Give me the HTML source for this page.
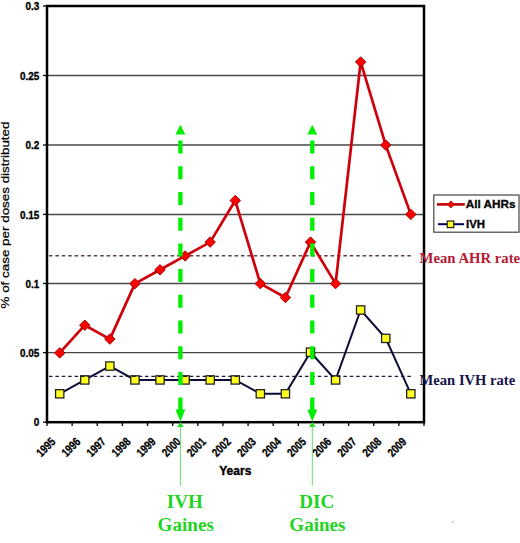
<!DOCTYPE html><html><head><meta charset="utf-8"><style>html,body{margin:0;padding:0;background:#fff;overflow:hidden;}svg{display:block;}</style></head><body>
<svg width="520" height="543" viewBox="0 0 520 543">
<line x1="47" y1="352.60" x2="424" y2="352.60" stroke="#474747" stroke-width="1.45"/>
<line x1="47" y1="283.50" x2="424" y2="283.50" stroke="#474747" stroke-width="1.45"/>
<line x1="47" y1="214.40" x2="424" y2="214.40" stroke="#474747" stroke-width="1.45"/>
<line x1="47" y1="145.00" x2="424" y2="145.00" stroke="#474747" stroke-width="1.45"/>
<line x1="47" y1="75.50" x2="424" y2="75.50" stroke="#474747" stroke-width="1.45"/>
<line x1="49" y1="255.7" x2="411" y2="255.7" stroke="#5a4048" stroke-width="1.4" stroke-dasharray="3.5,2.9"/>
<rect x="47" y="6" width="377" height="416.2" fill="none" stroke="#000" stroke-width="2.5"/>
<line x1="43" y1="422.20" x2="47" y2="422.20" stroke="#000" stroke-width="1.3"/>
<line x1="43" y1="352.60" x2="47" y2="352.60" stroke="#000" stroke-width="1.3"/>
<line x1="43" y1="283.50" x2="47" y2="283.50" stroke="#000" stroke-width="1.3"/>
<line x1="43" y1="214.40" x2="47" y2="214.40" stroke="#000" stroke-width="1.3"/>
<line x1="43" y1="145.00" x2="47" y2="145.00" stroke="#000" stroke-width="1.3"/>
<line x1="43" y1="75.50" x2="47" y2="75.50" stroke="#000" stroke-width="1.3"/>
<line x1="43" y1="6.00" x2="47" y2="6.00" stroke="#000" stroke-width="1.3"/>
<line x1="47.00" y1="422.2" x2="47.00" y2="426.0" stroke="#000" stroke-width="1.3"/>
<line x1="72.13" y1="422.2" x2="72.13" y2="426.0" stroke="#000" stroke-width="1.3"/>
<line x1="97.27" y1="422.2" x2="97.27" y2="426.0" stroke="#000" stroke-width="1.3"/>
<line x1="122.40" y1="422.2" x2="122.40" y2="426.0" stroke="#000" stroke-width="1.3"/>
<line x1="147.53" y1="422.2" x2="147.53" y2="426.0" stroke="#000" stroke-width="1.3"/>
<line x1="172.67" y1="422.2" x2="172.67" y2="426.0" stroke="#000" stroke-width="1.3"/>
<line x1="197.80" y1="422.2" x2="197.80" y2="426.0" stroke="#000" stroke-width="1.3"/>
<line x1="222.93" y1="422.2" x2="222.93" y2="426.0" stroke="#000" stroke-width="1.3"/>
<line x1="248.07" y1="422.2" x2="248.07" y2="426.0" stroke="#000" stroke-width="1.3"/>
<line x1="273.20" y1="422.2" x2="273.20" y2="426.0" stroke="#000" stroke-width="1.3"/>
<line x1="298.33" y1="422.2" x2="298.33" y2="426.0" stroke="#000" stroke-width="1.3"/>
<line x1="323.47" y1="422.2" x2="323.47" y2="426.0" stroke="#000" stroke-width="1.3"/>
<line x1="348.60" y1="422.2" x2="348.60" y2="426.0" stroke="#000" stroke-width="1.3"/>
<line x1="373.73" y1="422.2" x2="373.73" y2="426.0" stroke="#000" stroke-width="1.3"/>
<line x1="398.87" y1="422.2" x2="398.87" y2="426.0" stroke="#000" stroke-width="1.3"/>
<line x1="424.00" y1="422.2" x2="424.00" y2="426.0" stroke="#000" stroke-width="1.3"/>
<text x="0" y="0" text-anchor="end" font-family="Liberation Sans, sans-serif" font-weight="bold" font-size="11.3" stroke="#000" stroke-width="0.35" transform="translate(39.3 426.30) scale(0.88 1)">0</text>
<text x="0" y="0" text-anchor="end" font-family="Liberation Sans, sans-serif" font-weight="bold" font-size="11.3" stroke="#000" stroke-width="0.35" transform="translate(39.3 356.70) scale(0.88 1)">0.05</text>
<text x="0" y="0" text-anchor="end" font-family="Liberation Sans, sans-serif" font-weight="bold" font-size="11.3" stroke="#000" stroke-width="0.35" transform="translate(39.3 287.60) scale(0.88 1)">0.1</text>
<text x="0" y="0" text-anchor="end" font-family="Liberation Sans, sans-serif" font-weight="bold" font-size="11.3" stroke="#000" stroke-width="0.35" transform="translate(39.3 218.50) scale(0.88 1)">0.15</text>
<text x="0" y="0" text-anchor="end" font-family="Liberation Sans, sans-serif" font-weight="bold" font-size="11.3" stroke="#000" stroke-width="0.35" transform="translate(39.3 149.10) scale(0.88 1)">0.2</text>
<text x="0" y="0" text-anchor="end" font-family="Liberation Sans, sans-serif" font-weight="bold" font-size="11.3" stroke="#000" stroke-width="0.35" transform="translate(39.3 79.60) scale(0.88 1)">0.25</text>
<text x="0" y="0" text-anchor="end" font-family="Liberation Sans, sans-serif" font-weight="bold" font-size="11.3" stroke="#000" stroke-width="0.35" transform="translate(39.3 10.10) scale(0.88 1)">0.3</text>
<text x="0" y="0" text-anchor="end" font-family="Liberation Sans, sans-serif" font-weight="bold" font-size="12" stroke="#000" stroke-width="0.3" transform="translate(56.20 442.60) rotate(-45) scale(0.79 1)">1995</text>
<text x="0" y="0" text-anchor="end" font-family="Liberation Sans, sans-serif" font-weight="bold" font-size="12" stroke="#000" stroke-width="0.3" transform="translate(81.28 442.60) rotate(-45) scale(0.79 1)">1996</text>
<text x="0" y="0" text-anchor="end" font-family="Liberation Sans, sans-serif" font-weight="bold" font-size="12" stroke="#000" stroke-width="0.3" transform="translate(106.36 442.60) rotate(-45) scale(0.79 1)">1997</text>
<text x="0" y="0" text-anchor="end" font-family="Liberation Sans, sans-serif" font-weight="bold" font-size="12" stroke="#000" stroke-width="0.3" transform="translate(131.44 442.60) rotate(-45) scale(0.79 1)">1998</text>
<text x="0" y="0" text-anchor="end" font-family="Liberation Sans, sans-serif" font-weight="bold" font-size="12" stroke="#000" stroke-width="0.3" transform="translate(156.52 442.60) rotate(-45) scale(0.79 1)">1999</text>
<text x="0" y="0" text-anchor="end" font-family="Liberation Sans, sans-serif" font-weight="bold" font-size="12" stroke="#000" stroke-width="0.3" transform="translate(181.60 442.60) rotate(-45) scale(0.79 1)">2000</text>
<text x="0" y="0" text-anchor="end" font-family="Liberation Sans, sans-serif" font-weight="bold" font-size="12" stroke="#000" stroke-width="0.3" transform="translate(206.68 442.60) rotate(-45) scale(0.79 1)">2001</text>
<text x="0" y="0" text-anchor="end" font-family="Liberation Sans, sans-serif" font-weight="bold" font-size="12" stroke="#000" stroke-width="0.3" transform="translate(231.76 442.60) rotate(-45) scale(0.79 1)">2002</text>
<text x="0" y="0" text-anchor="end" font-family="Liberation Sans, sans-serif" font-weight="bold" font-size="12" stroke="#000" stroke-width="0.3" transform="translate(256.84 442.60) rotate(-45) scale(0.79 1)">2003</text>
<text x="0" y="0" text-anchor="end" font-family="Liberation Sans, sans-serif" font-weight="bold" font-size="12" stroke="#000" stroke-width="0.3" transform="translate(281.92 442.60) rotate(-45) scale(0.79 1)">2004</text>
<text x="0" y="0" text-anchor="end" font-family="Liberation Sans, sans-serif" font-weight="bold" font-size="12" stroke="#000" stroke-width="0.3" transform="translate(307.00 442.60) rotate(-45) scale(0.79 1)">2005</text>
<text x="0" y="0" text-anchor="end" font-family="Liberation Sans, sans-serif" font-weight="bold" font-size="12" stroke="#000" stroke-width="0.3" transform="translate(332.08 442.60) rotate(-45) scale(0.79 1)">2006</text>
<text x="0" y="0" text-anchor="end" font-family="Liberation Sans, sans-serif" font-weight="bold" font-size="12" stroke="#000" stroke-width="0.3" transform="translate(357.16 442.60) rotate(-45) scale(0.79 1)">2007</text>
<text x="0" y="0" text-anchor="end" font-family="Liberation Sans, sans-serif" font-weight="bold" font-size="12" stroke="#000" stroke-width="0.3" transform="translate(382.24 442.60) rotate(-45) scale(0.79 1)">2008</text>
<text x="0" y="0" text-anchor="end" font-family="Liberation Sans, sans-serif" font-weight="bold" font-size="12" stroke="#000" stroke-width="0.3" transform="translate(407.32 442.60) rotate(-45) scale(0.79 1)">2009</text>
<polyline points="59.70,352.92 84.78,325.21 109.86,339.07 134.94,283.65 160.02,269.79 185.10,255.94 210.18,242.08 235.26,200.52 260.34,283.65 285.42,297.50 310.50,242.08 335.58,283.65 360.66,61.97 385.74,145.10 410.82,214.38" fill="none" stroke="#d0000a" stroke-width="2.7" stroke-linejoin="round"/>
<polygon points="59.70,347.72 64.90,352.92 59.70,358.12 54.50,352.92" fill="#ff0000" stroke="#a00000" stroke-width="1"/>
<polygon points="84.78,320.01 89.98,325.21 84.78,330.41 79.58,325.21" fill="#ff0000" stroke="#a00000" stroke-width="1"/>
<polygon points="109.86,333.87 115.06,339.07 109.86,344.27 104.66,339.07" fill="#ff0000" stroke="#a00000" stroke-width="1"/>
<polygon points="134.94,278.45 140.14,283.65 134.94,288.85 129.74,283.65" fill="#ff0000" stroke="#a00000" stroke-width="1"/>
<polygon points="160.02,264.59 165.22,269.79 160.02,274.99 154.82,269.79" fill="#ff0000" stroke="#a00000" stroke-width="1"/>
<polygon points="185.10,250.74 190.30,255.94 185.10,261.14 179.90,255.94" fill="#ff0000" stroke="#a00000" stroke-width="1"/>
<polygon points="210.18,236.88 215.38,242.08 210.18,247.28 204.98,242.08" fill="#ff0000" stroke="#a00000" stroke-width="1"/>
<polygon points="235.26,195.32 240.46,200.52 235.26,205.72 230.06,200.52" fill="#ff0000" stroke="#a00000" stroke-width="1"/>
<polygon points="260.34,278.45 265.54,283.65 260.34,288.85 255.14,283.65" fill="#ff0000" stroke="#a00000" stroke-width="1"/>
<polygon points="285.42,292.31 290.62,297.50 285.42,302.70 280.22,297.50" fill="#ff0000" stroke="#a00000" stroke-width="1"/>
<polygon points="310.50,236.88 315.70,242.08 310.50,247.28 305.30,242.08" fill="#ff0000" stroke="#a00000" stroke-width="1"/>
<polygon points="335.58,278.45 340.78,283.65 335.58,288.85 330.38,283.65" fill="#ff0000" stroke="#a00000" stroke-width="1"/>
<polygon points="360.66,56.77 365.86,61.97 360.66,67.17 355.46,61.97" fill="#ff0000" stroke="#a00000" stroke-width="1"/>
<polygon points="385.74,139.90 390.94,145.10 385.74,150.30 380.54,145.10" fill="#ff0000" stroke="#a00000" stroke-width="1"/>
<polygon points="410.82,209.18 416.02,214.38 410.82,219.57 405.62,214.38" fill="#ff0000" stroke="#a00000" stroke-width="1"/>
<polyline points="59.70,393.79 84.78,379.94 109.86,366.08 134.94,379.94 160.02,379.94 185.10,379.94 210.18,379.94 235.26,379.94 260.34,393.79 285.42,393.79 310.50,352.22 335.58,379.94 360.66,309.97 385.74,338.37 410.82,393.79" fill="none" stroke="#0c0c38" stroke-width="2"/>
<rect x="55.55" y="389.64" width="8.30" height="8.30" fill="#ffff20" stroke="#222" stroke-width="1.3"/>
<rect x="80.63" y="375.79" width="8.30" height="8.30" fill="#ffff20" stroke="#222" stroke-width="1.3"/>
<rect x="105.71" y="361.93" width="8.30" height="8.30" fill="#ffff20" stroke="#222" stroke-width="1.3"/>
<rect x="130.79" y="375.79" width="8.30" height="8.30" fill="#ffff20" stroke="#222" stroke-width="1.3"/>
<rect x="155.87" y="375.79" width="8.30" height="8.30" fill="#ffff20" stroke="#222" stroke-width="1.3"/>
<rect x="180.95" y="375.79" width="8.30" height="8.30" fill="#ffff20" stroke="#222" stroke-width="1.3"/>
<rect x="206.03" y="375.79" width="8.30" height="8.30" fill="#ffff20" stroke="#222" stroke-width="1.3"/>
<rect x="231.11" y="375.79" width="8.30" height="8.30" fill="#ffff20" stroke="#222" stroke-width="1.3"/>
<rect x="256.19" y="389.64" width="8.30" height="8.30" fill="#ffff20" stroke="#222" stroke-width="1.3"/>
<rect x="281.27" y="389.64" width="8.30" height="8.30" fill="#ffff20" stroke="#222" stroke-width="1.3"/>
<rect x="306.35" y="348.07" width="8.30" height="8.30" fill="#ffff20" stroke="#222" stroke-width="1.3"/>
<rect x="331.43" y="375.79" width="8.30" height="8.30" fill="#ffff20" stroke="#222" stroke-width="1.3"/>
<rect x="356.51" y="305.82" width="8.30" height="8.30" fill="#ffff20" stroke="#222" stroke-width="1.3"/>
<rect x="381.59" y="334.22" width="8.30" height="8.30" fill="#ffff20" stroke="#222" stroke-width="1.3"/>
<rect x="406.67" y="389.64" width="8.30" height="8.30" fill="#ffff20" stroke="#222" stroke-width="1.3"/>
<line x1="49" y1="376.4" x2="411" y2="376.4" stroke="#1a1a40" stroke-width="1.4" stroke-dasharray="3.5,2.9"/>
<polygon points="180.4,124.8 185.3,134.5 175.5,134.5" fill="#00ee00"/>
<line x1="180.4" y1="140.6" x2="180.4" y2="410" stroke="#00ee00" stroke-width="4.3" stroke-dasharray="13,12.7"/>
<polygon points="175.5,409.5 185.3,409.5 180.4,421.5" fill="#00ee00"/>
<polygon points="180.4,422 183.8,427 177.0,427" fill="#22dd22"/>
<line x1="180.4" y1="426" x2="180.4" y2="486" stroke="#66e066" stroke-width="1"/>
<polygon points="312.3,124.8 317.2,134.5 307.40000000000003,134.5" fill="#00ee00"/>
<line x1="312.3" y1="140.6" x2="312.3" y2="410" stroke="#00ee00" stroke-width="4.3" stroke-dasharray="13,12.7"/>
<polygon points="307.40000000000003,409.5 317.2,409.5 312.3,421.5" fill="#00ee00"/>
<polygon points="312.3,422 315.7,427 308.90000000000003,427" fill="#22dd22"/>
<line x1="312.3" y1="426" x2="312.3" y2="486" stroke="#66e066" stroke-width="1"/>
<text x="184.9" y="507.9" text-anchor="middle" font-family="Liberation Serif, serif" font-weight="bold" font-size="19.1" fill="#22d422">IVH</text>
<text x="185.7" y="530.7" text-anchor="middle" font-family="Liberation Serif, serif" font-weight="bold" font-size="19.1" fill="#22d422">Gaines</text>
<text x="316.7" y="508.2" text-anchor="middle" font-family="Liberation Serif, serif" font-weight="bold" font-size="19.1" fill="#22d422">DIC</text>
<text x="317.4" y="530.7" text-anchor="middle" font-family="Liberation Serif, serif" font-weight="bold" font-size="19.1" fill="#22d422">Gaines</text>
<text x="0" y="0" font-family="Liberation Serif, serif" font-weight="bold" font-size="14.3" fill="#b51a35" transform="translate(419.6 263.3) scale(1.03 1)">Mean AHR rate</text>
<text x="0" y="0" font-family="Liberation Serif, serif" font-weight="bold" font-size="14.3" fill="#14144a" transform="translate(419.6 384.8) scale(1.02 1)">Mean IVH rate</text>
<text x="235.3" y="474.7" text-anchor="middle" font-family="Liberation Sans, sans-serif" font-weight="bold" font-size="12" stroke="#000" stroke-width="0.35">Years</text>
<text x="0" y="0" text-anchor="middle" font-family="Liberation Sans, sans-serif" font-size="11" stroke="#000" stroke-width="0.25" transform="translate(9.3 215) rotate(-90) scale(1.22 1)">% of case per doses distributed</text>
<rect x="433.8" y="195" width="85.2" height="37.2" fill="#fff" stroke="#444" stroke-width="1.2"/>
<line x1="437" y1="204.4" x2="464.8" y2="204.4" stroke="#c00000" stroke-width="2.6"/>
<polygon points="450.9,200.9 454.3,204.4 450.9,207.9 447.5,204.4" fill="#ff0000" stroke="#a00000" stroke-width="0.8"/>
<text x="465.8" y="208.5" font-family="Liberation Sans, sans-serif" font-weight="bold" font-size="11.4" stroke="#000" stroke-width="0.3" transform="translate(465.8 0) scale(1.03 1) translate(-465.8 0)">All AHRs</text>
<line x1="438" y1="224.2" x2="464.1" y2="224.2" stroke="#000060" stroke-width="2"/>
<rect x="447.2" y="221" width="6.6" height="6.6" fill="#ffff20" stroke="#222" stroke-width="1.2"/>
<text x="466" y="227.7" font-family="Liberation Sans, sans-serif" font-weight="bold" font-size="11.4" stroke="#000" stroke-width="0.3">IVH</text>
<circle cx="452.7" cy="522" r="0.9" fill="#bbb"/>
</svg></body></html>
